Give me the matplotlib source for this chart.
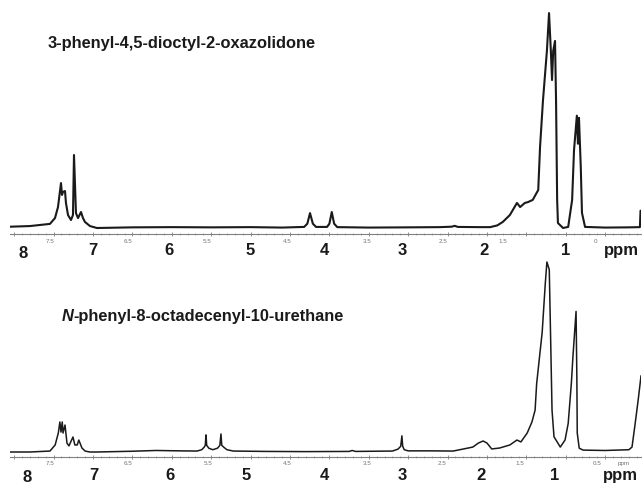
import matplotlib
matplotlib.use("Agg")
import matplotlib.pyplot as plt
import matplotlib.transforms as mtransforms
from matplotlib.ticker import MultipleLocator

plt.rcParams['font.family'] = ['Liberation Sans', 'DejaVu Sans']

# spectrum 1: 3-phenyl-4,5-dioctyl-2-oxazolidone (ppm, intensity)
top_ppm = [8.05, 7.80, 7.546, 7.482, 7.444, 7.406, 7.393, 7.381, 7.355, 7.343, 7.317,
           7.279, 7.254, 7.241, 7.216, 7.190, 7.152, 7.127, 7.102, 7.038, 6.95,
           6.5, 6.0, 5.5, 5.0, 4.6, 4.32, 4.28, 4.246, 4.21, 4.17, 4.03, 4.00, 3.97,
           3.94, 3.90, 3.5, 3.0, 2.6, 2.45, 2.41, 2.37, 2.1, 1.96, 1.87, 1.80, 1.71,
           1.62, 1.58, 1.52, 1.48, 1.42, 1.35, 1.327, 1.29, 1.24, 1.213, 1.19, 1.175,
           1.16, 1.137, 1.124, 1.11, 1.10, 1.035, 0.97, 0.92, 0.896, 0.86, 0.846,
           0.833, 0.81, 0.795, 0.756, 0.5, 0.2, 0.06, 0.052, 0.046]
top_int = [0.006, 0.009, 0.019, 0.046, 0.097, 0.208, 0.153, 0.167, 0.171, 0.116, 0.060,
           0.037, 0.060, 0.338, 0.069, 0.046, 0.074, 0.046, 0.028, 0.009, 0.0,
           0.003, 0.004, 0.003, 0.004, 0.002, 0.005, 0.02, 0.069, 0.02, 0.005, 0.005, 0.02, 0.074,
           0.02, 0.004, 0.002, 0.003, 0.004, 0.006, 0.01, 0.005, 0.004, 0.004, 0.012, 0.028, 0.06,
           0.116, 0.097, 0.116, 0.12, 0.13, 0.176, 0.375, 0.59, 0.82, 0.995, 0.82, 0.685,
           0.82, 0.866, 0.59, 0.13, 0.023, 0.0, 0.005, 0.13, 0.36, 0.52, 0.39,
           0.51, 0.28, 0.07, 0.005, 0.002, 0.003, 0.004, 0.08, 0.08]

# spectrum 2: N-phenyl-8-octadecenyl-10-urethane
bot_ppm = [8.05, 7.80, 7.546, 7.48, 7.44, 7.42, 7.406, 7.39, 7.38, 7.355, 7.33, 7.305,
           7.254, 7.23, 7.20, 7.18, 7.14, 7.10, 7.04, 6.95, 6.5, 6.2, 5.9, 5.68, 5.62,
           5.59, 5.575, 5.566, 5.557, 5.53, 5.48, 5.42, 5.39, 5.376, 5.366, 5.34, 5.30,
           5.22, 4.8, 4.3, 3.75, 3.71, 3.67, 3.20, 3.13, 3.095, 3.08, 3.07, 3.05, 3.0,
           2.7, 2.43, 2.25, 2.18, 2.11, 2.05, 2.0, 1.94, 1.84, 1.71, 1.62, 1.57, 1.49,
           1.43, 1.39, 1.37, 1.30, 1.26, 1.24, 1.21, 1.19, 1.175, 1.15, 1.07, 1.01,
           0.97, 0.93, 0.91, 0.87, 0.86, 0.855, 0.83, 0.78, 0.5, 0.2, 0.16, 0.12, 0.08, 0.046]
bot_int = [0.0, 0.0, 0.005, 0.037, 0.10, 0.158, 0.105, 0.158, 0.10, 0.142, 0.047, 0.032,
           0.079, 0.037, 0.037, 0.063, 0.021, 0.005, 0.0, 0.0, 0.004, 0.008, 0.006, 0.005, 0.012,
           0.025, 0.035, 0.09, 0.035, 0.02, 0.012, 0.02, 0.035, 0.095, 0.035, 0.025, 0.012,
           0.005, 0.003, 0.002, 0.003, 0.008, 0.003, 0.005, 0.015, 0.03, 0.085, 0.03, 0.012, 0.006,
           0.006, 0.005, 0.02, 0.026, 0.047, 0.058, 0.047, 0.016, 0.021, 0.037, 0.063, 0.053, 0.10,
           0.158, 0.22, 0.36, 0.63, 0.89, 1.0, 0.96, 0.54, 0.22, 0.08, 0.026, 0.063,
           0.15, 0.36, 0.5, 0.74, 0.39, 0.1, 0.02, 0.01, 0.008, 0.012, 0.026, 0.15, 0.28, 0.40]

titles = ['3-phenyl-4,5-dioctyl-2-oxazolidone', '-phenyl-8-octadecenyl-10-urethane']

big_labels = ['8', '7', '6', '5', '4', '3', '2', '1', 'ppm']
top_big_pos = [7.89, 7.0, 6.04, 5.0, 4.06, 3.07, 2.04, 1.0, 0.29]
bot_big_pos = [7.84, 6.99, 6.02, 5.06, 4.06, 3.07, 2.08, 1.14, 0.31]

top_small = ['7.5', '6.5', '5.5', '4.5', '3.5', '2.5', '1.5', '0']
top_small_pos = [7.546, 6.556, 5.553, 4.538, 3.523, 2.558, 1.797, 0.629]
bot_small = ['7.5', '6.5', '5.5', '4.5', '3.5', '2.5', '1.5', '0.5', 'ppm']
bot_small_pos = [7.546, 6.556, 5.54, 4.538, 3.523, 2.57, 1.58, 0.604, 0.27]

W, H = 642, 487
fig = plt.figure(figsize=(W / 100, H / 100), dpi=100)

def make_ax(top_px, spine_px, base_px, full_px):
    ax = fig.add_axes([10 / W, 1 - spine_px / H, 631 / W, (spine_px - top_px) / H])
    scale = base_px - full_px
    ax.set_ylim(-(spine_px - base_px) / scale, (base_px - top_px) / scale)
    ax.set_xlim(8.053, 0.046)
    for s in ['top', 'right', 'left']:
        ax.spines[s].set_visible(False)
    ax.spines['bottom'].set_color('0.5')
    ax.spines['bottom'].set_linewidth(0.8)
    ax.xaxis.set_major_locator(MultipleLocator(0.5))
    ax.xaxis.set_minor_locator(MultipleLocator(0.1))
    ax.tick_params(axis='x', which='major', direction='inout', length=3, width=0.6,
                   color='0.5', labelbottom=False)
    ax.tick_params(axis='x', which='minor', direction='inout', length=2, width=0.5,
                   color='0.6')
    ax.set_yticks([])
    ax.patch.set_visible(False)
    return ax

ax1 = make_ax(5, 234, 228, 12)
ax2 = make_ax(258, 457, 452, 262)

ax1.plot(top_ppm, top_int, color='0.1', lw=1.5, solid_joinstyle='round')
ax2.plot(bot_ppm, bot_int, color='0.1', lw=1.1, solid_joinstyle='round')

# titles
ax1.text(0.060, 0.834, titles[0], transform=ax1.transAxes, fontsize=11.8,
         fontweight='bold', va='center', ha='left', color='0.1')
tn = ax2.text(0.082, 0.704, 'N', transform=ax2.transAxes, fontsize=11.8,
              fontweight='bold', style='italic', va='center', ha='left', color='0.1')
ax2.annotate(titles[1], xy=(1, 0), xycoords=tn, va='bottom', ha='left',
             fontsize=11.8, fontweight='bold', color='0.1')

# axis labels
for ax, pos, ybig in [(ax1, top_big_pos, -0.072), (ax2, bot_big_pos, -0.092)]:
    tr = mtransforms.blended_transform_factory(ax.transData, ax.transAxes)
    for lab, p in zip(big_labels, pos):
        yy = ybig - (0.012 if lab == '8' else 0)
        ax.text(p, yy, lab, transform=tr, fontsize=12, fontweight='bold',
                ha='center', va='center', color='0.1', clip_on=False)

for ax, labs, pos in [(ax1, top_small, top_small_pos), (ax2, bot_small, bot_small_pos)]:
    tr = mtransforms.blended_transform_factory(ax.transData, ax.transAxes)
    for lab, p in zip(labs, pos):
        ax.text(p, -0.032, lab, transform=tr, fontsize=4.5, ha='center', va='center',
                color='0.45', clip_on=False)

fig.savefig('out.png', dpi=100, facecolor='white')
